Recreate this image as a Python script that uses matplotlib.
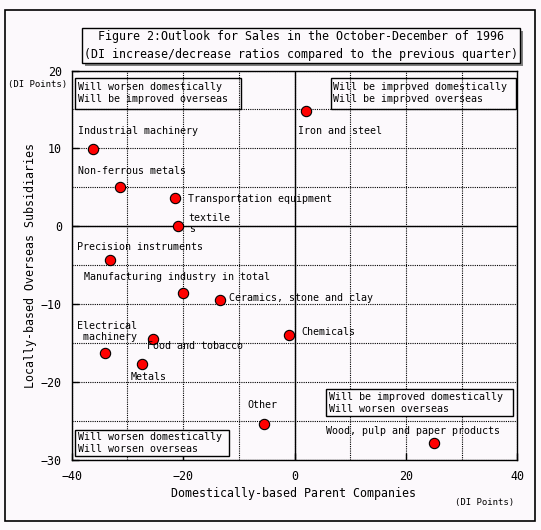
import matplotlib
matplotlib.use('Agg')
import matplotlib.pyplot as plt
from matplotlib.patches import Rectangle
from matplotlib.ticker import MultipleLocator

# data (DI points)
industries = ['Iron and steel', 'Industrial machinery', 'Non-ferrous metals',
              'Transportation equipment', 'textile\ns', 'Precision instruments',
              'Manufacturing industry in total', 'Ceramics, stone and clay',
              'Electrical\n machinery', 'Food and tobacco', 'Metals',
              'Chemicals', 'Other', 'Wood, pulp and paper products']
domestic = [2.1, -36.1, -31.4, -21.4, -21.0, -33.2, -20.1, -13.3,
            -34.0, -25.4, -27.4, -0.9, -5.4, 25.0]
overseas = [14.8, 9.9, 5.0, 3.7, 0.0, -4.3, -8.6, -9.4,
            -16.2, -14.4, -17.6, -13.9, -25.3, -27.8]

x_ticks = [-40, -20, 0, 20, 40]
y_ticks = [-30, -20, -10, 0, 10, 20]

quadrant_text = {
    'tl': 'Will worsen domestically\nWill be improved overseas',
    'tr': 'Will be improved domestically\nWill be improved overseas',
    'br': 'Will be improved domestically\nWill worsen overseas',
    'bl': 'Will worsen domestically\nWill worsen overseas',
}
title = ('Figure 2:Outlook for Sales in the October-December of 1996\n'
         '(DI increase/decrease ratios compared to the previous quarter)')

# where each label sits (left edge, vertical centre), data coords
label_pos = [(0.7, 12.2), (-38.9, 12.3), (-38.8, 7.1), (-19.2, 3.5),
             (-19.0, 0.4), (-39.1, -2.7), (-37.8, -6.5), (-11.7, -9.15),
             (-39.0, -13.45), (-26.4, -15.4), (-29.4, -19.3), (1.3, -13.6),
             (-8.4, -22.9), (5.7, -26.3)]

W, H = 541, 530
BG = '#fcf9fc'
plt.rcParams['font.family'] = ['DejaVu Sans Mono']


def fx(px):
    return px / W


def fy(py):
    return 1 - py / H


def fig_box(fig, x0, y0, x1, y1, lw=1.0, fc='none', z=1):
    fig.patches.append(Rectangle((fx(x0), fy(y1)), fx(x1) - fx(x0), fy(y0) - fy(y1),
                                 transform=fig.transFigure, fc=fc, ec='black',
                                 lw=lw, zorder=z))


fig = plt.figure(figsize=(W / 100, H / 100), dpi=100, facecolor=BG)
ax = fig.add_axes([fx(71.7), fy(460.3), fx(517.3) - fx(71.7), fy(70.5) - fy(460.3)])
ax.set_facecolor(BG)

ax.scatter(domestic, overseas, s=55, c='#ff0000', edgecolors='black',
           linewidths=0.8, zorder=5)
for name, (lx, ly) in zip(industries, label_pos):
    ax.text(lx, ly, name, fontsize=7.2, ha='left', va='center',
            linespacing=1.1, zorder=6)

ax.set_xlim(-40, 40)
ax.set_ylim(-30, 20)
ax.set_xticks(x_ticks)
ax.set_yticks(y_ticks)
ax.xaxis.set_minor_locator(MultipleLocator(10))
ax.yaxis.set_minor_locator(MultipleLocator(5))
ax.grid(which='both', color='black', linestyle=(0, (1, 1)), linewidth=0.8)
ax.axhline(0, color='black', lw=1.0)
ax.axvline(0, color='black', lw=1.0)
ax.tick_params(which='major', direction='in', length=5, width=1,
               labelsize=8.4, pad=7)
ax.tick_params(which='minor', length=0)
for sp in ax.spines.values():
    sp.set_linewidth(1.0)

ax.set_xlabel('Domestically-based Parent Companies', fontsize=8.4)
ax.xaxis.set_label_coords(0.497, -0.068)
ax.set_ylabel('Locally-based Overseas Subsidiaries', fontsize=8.4)
ax.yaxis.set_label_coords(-0.077, 0.5)

fig.text(fx(8), fy(85), '(DI Points)', fontsize=6.5, va='center')
fig.text(fx(455), fy(502.7), '(DI Points)', fontsize=6.5, va='center')

# quadrant boxes
fig_box(fig, 75.4, 78, 240.5, 109)
fig.text(fx(78), fy(93.5), quadrant_text['tl'], fontsize=7.2, va='center', linespacing=1.25)
fig_box(fig, 331, 78, 516, 109)
fig.text(fx(333), fy(93.5), quadrant_text['tr'], fontsize=7.2, va='center', linespacing=1.25)
fig_box(fig, 326.3, 389.3, 512.7, 416.3, fc=BG, z=3)
fig.text(fx(328.7), fy(403), quadrant_text['br'], fontsize=7.2, va='center',
         linespacing=1.25, zorder=4)
fig_box(fig, 75.3, 429.7, 229.3, 456, fc=BG, z=3)
fig.text(fx(77.7), fy(443), quadrant_text['bl'], fontsize=7.2, va='center',
         linespacing=1.2, zorder=4)

# title with grey drop shadow
fig.patches.append(Rectangle((fx(84.7), fy(66)), fx(520) - fx(81.7), fy(27.7) - fy(63),
                             transform=fig.transFigure, fc='#808080', ec='none', zorder=1))
fig_box(fig, 81.7, 27.7, 520, 63, fc=BG, z=2)
fig.text(fx(301), fy(45.3), title, fontsize=8.4, ha='center', va='center',
         linespacing=1.5, zorder=3)

# outer frame
fig_box(fig, 4.5, 10, 535, 520.5, lw=1.2)

fig.savefig('out.png', dpi=100, facecolor=BG)
